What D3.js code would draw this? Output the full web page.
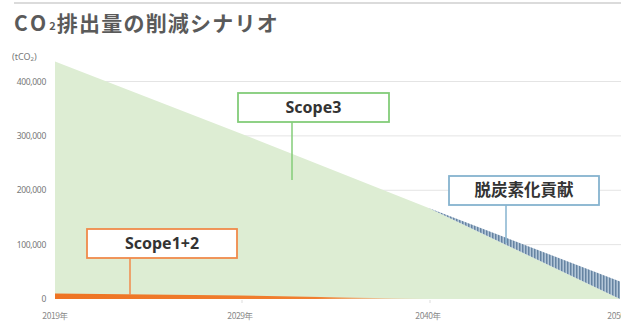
<!DOCTYPE html>
<html>
<head>
<meta charset="utf-8">
<script src="https://cdn.jsdelivr.net/npm/d3@7/dist/d3.min.js"></script>
<style>
  html, body { margin: 0; padding: 0; background: #fff; }
  svg { display: block; }
</style>
</head>
<body>
<div id="chart"></div>
<script>
// 年（横軸の目盛）
const years      = [2019, 2029, 2040, 2050];
const tickLabels = ['2019年', '2029年', '2040年', '2050年'];
// 排出量 (tCO2)
const baseline   = [437000, 305000, 168000, 32000];   // 削減なしの線（緑+青の上端）
const scope3     = [437000, 305000, 168000, 0];       // Scope3（緑）
const scope12    = [10000, 6500, 0, 0];               // Scope1+2（オレンジ）
const yTicks     = [0, 100000, 200000, 300000, 400000];

const W = 621, H = 323;
const svg = d3.select('#chart').append('svg').attr('width', W).attr('height', H);

// 横軸は目盛が等間隔に並んでいるので多区間の線形スケール
const x = d3.scaleLinear().domain(years).range([55, 240, 428, 620]);
const y = d3.scaleLinear().domain([0, 400000]).range([299, 81.5]);

const defs = svg.append('defs');
const pat = defs.append('pattern').attr('id', 'stripe')
  .attr('patternUnits', 'userSpaceOnUse').attr('width', 3).attr('height', 10);
pat.append('rect').attr('width', 3).attr('height', 10).attr('fill', '#b3c6d8');
pat.append('rect').attr('width', 1.5).attr('height', 10).attr('fill', '#6684a2');

const grad = defs.append('linearGradient').attr('id', 'orangeFade')
  .attr('gradientUnits', 'userSpaceOnUse')
  .attr('x1', x(2019)).attr('x2', x(2040)).attr('y1', 0).attr('y2', 0);
grad.append('stop').attr('offset', '0%').attr('stop-color', '#ee7424');
grad.append('stop').attr('offset', '70%').attr('stop-color', '#f07f30');
grad.append('stop').attr('offset', '100%').attr('stop-color', '#f7c9a4').attr('stop-opacity', 0.3);

// 上の罫線
svg.append('line').attr('x1', 14).attr('x2', W).attr('y1', 3).attr('y2', 3)
  .attr('stroke', '#cfcfcf').attr('stroke-width', 1.5);

// タイトル
const title = svg.append('text').attr('x', 14).attr('y', 31)
  .attr('font-family', '"Noto Sans CJK JP", "Noto Sans", sans-serif')
  .attr('font-weight', 700).attr('font-size', 21).attr('fill', '#5a5a5a')
  .attr('letter-spacing', 1.2);
title.append('tspan').attr('letter-spacing', 3).text('CO');
title.append('tspan').attr('font-size', 11).attr('dy', -1).text('2');
title.append('tspan').attr('dy', 1).text('排出量の削減シナリオ');

// 単位
const unit = svg.append('text').attr('x', 12).attr('y', 60)
  .attr('font-family', '"Noto Sans", sans-serif').attr('font-size', 9).attr('fill', '#777');
unit.append('tspan').text('(tCO');
unit.append('tspan').attr('font-size', 6).attr('dy', 1).text('2');
unit.append('tspan').attr('dy', -1).text(')');

// グリッド線
svg.append('g').selectAll('line').data(yTicks.filter(d => d > 0)).join('line')
  .attr('x1', x(2019)).attr('x2', W)
  .attr('y1', d => y(d)).attr('y2', d => y(d))
  .attr('stroke', '#e4e4e4').attr('stroke-width', 1);

// 縦軸ラベル
svg.append('g').selectAll('text').data(yTicks).join('text')
  .attr('x', 46).attr('y', d => y(d) + 3)
  .attr('text-anchor', 'end')
  .attr('font-family', '"Noto Sans", sans-serif').attr('font-size', 8.5)
  .attr('letter-spacing', -0.3).attr('fill', '#777')
  .text(d => d3.format(',')(d));

const rows = years.map((yr, i) => ({ yr, base: baseline[i], s3: scope3[i], s12: scope12[i] }));

// Scope3 面
svg.append('path').datum(rows)
  .attr('d', d3.area().x(d => x(d.yr)).y0(y(0)).y1(d => y(d.s3)))
  .attr('fill', '#ddedd3');

// 脱炭素化貢献（2040年以降）
svg.append('path').datum(rows.filter(d => d.yr >= 2040))
  .attr('d', d3.area().x(d => x(d.yr)).y0(d => y(d.s3)).y1(d => y(d.base)))
  .attr('fill', 'url(#stripe)');

// Scope1+2 面
svg.append('path').datum(rows.filter(d => d.yr <= 2040))
  .attr('d', d3.area().x(d => x(d.yr)).y0(y(0)).y1(d => y(d.s12)))
  .attr('fill', 'url(#orangeFade)');

// 横軸ラベルと小さな目盛
svg.append('g').selectAll('line').data(years.slice(1, 3)).join('line')
  .attr('x1', d => x(d) + 2).attr('x2', d => x(d) + 2)
  .attr('y1', y(0) + 1).attr('y2', y(0) + 4)
  .attr('stroke', '#dddddd');
svg.append('g').selectAll('text').data(years).join('text')
  .attr('x', d => x(d)).attr('y', 319)
  .attr('text-anchor', 'middle')
  .attr('font-family', '"Noto Sans CJK JP", sans-serif').attr('font-size', 8.5)
  .attr('letter-spacing', -0.4).attr('fill', '#8a8a8a')
  .text((d, i) => tickLabels[i]);

// 吹き出しラベル
const callouts = [
  { text: 'Scope3',      box: [238, 93, 151, 29],  line: [292, 122, 180], color: '#83cc79', size: 16, font: '"Noto Sans", sans-serif' },
  { text: 'Scope1+2',    box: [87, 229, 150, 29],  line: [130, 258, 295], color: '#f08a4b', size: 16, font: '"Noto Sans", sans-serif' },
  { text: '脱炭素化貢献', box: [449, 176, 150, 29], line: [506, 205, 243], color: '#86b3cf', size: 16.5, font: '"Noto Sans CJK JP", sans-serif' },
];
const cg = svg.append('g').selectAll('g').data(callouts).join('g');
cg.append('line')
  .attr('x1', d => d.line[0]).attr('x2', d => d.line[0])
  .attr('y1', d => d.line[1]).attr('y2', d => d.line[2])
  .attr('stroke', d => d.color).attr('stroke-width', 1.5);
cg.append('rect')
  .attr('x', d => d.box[0]).attr('y', d => d.box[1])
  .attr('width', d => d.box[2]).attr('height', d => d.box[3])
  .attr('fill', '#fff').attr('stroke', d => d.color).attr('stroke-width', 1.8);
cg.append('text')
  .attr('x', d => d.box[0] + d.box[2] / 2).attr('y', d => d.box[1] + d.box[3] / 2 + 5.5)
  .attr('text-anchor', 'middle')
  .attr('font-family', d => d.font).attr('font-weight', 700)
  .attr('font-size', d => d.size).attr('fill', '#333')
  .text(d => d.text);
</script>
</body>
</html>
